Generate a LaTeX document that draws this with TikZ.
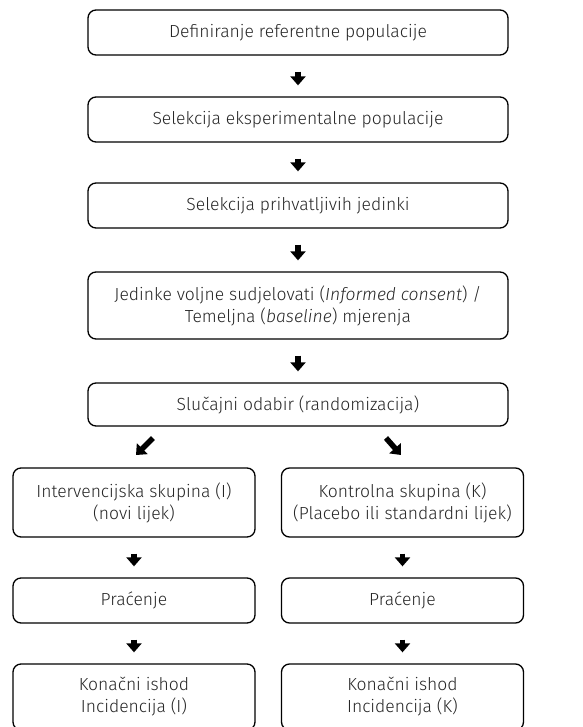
\documentclass[tikz,border=0pt]{standalone}
\usepackage{fontspec}
\setmainfont{Fira Sans}[UprightFont=* Light, ItalicFont=* Light Italic]
\usetikzlibrary{arrows.meta}
\begin{document}
\begin{tikzpicture}[x=1pt,y=-1pt,
  box/.style={draw=black, line width=1.3pt, rounded corners=8pt, align=center,
    font=\fontsize{17.5}{22}\selectfont, text=black!85, inner sep=0pt},
  wide/.style={box, minimum width=420pt},
  half/.style={box, minimum width=242pt},
  blk/.style={line width=5.5pt, -{Triangle[width=15pt,length=9pt]}, shorten <=16pt, shorten >=11pt}]
\useasboundingbox (0,0) rectangle (582,727);
\clip (0,0) rectangle (582,727);
\node[wide, minimum height=45pt] (b1) at (298,32.5) {Definiranje referentne populacije};
\node[wide, minimum height=45pt] (b2) at (298,119.5) {Selekcija eksperimentalne populacije};
\node[wide, minimum height=45pt] (b3) at (298,205.5) {Selekcija prihvatljivih jedinki};
\node[wide, minimum height=67pt] (b4) at (298,305.5) {Jedinke voljne sudjelovati (\textit{Informed consent}) /\\Temeljna (\textit{baseline}) mjerenja};
\node[wide, minimum height=43pt] (b5) at (298,404.5) {Slučajni odabir (randomizacija)};
\node[half, minimum height=69pt] (l1) at (134,502.5) {Intervencijska skupina (I)\\(novi lijek)};
\node[half, minimum height=69pt] (r1) at (402.5,502.5) {Kontrolna skupina (K)\\(Placebo ili standardni lijek)};
\node[half, minimum height=45pt] (l2) at (134,600.5) {Praćenje};
\node[half, minimum height=45pt] (r2) at (402.5,600.5) {Praćenje};
\node[half, minimum height=66pt] (l3) at (134,697) {Konačni ishod\\Incidencija (I)};
\node[half, minimum height=66pt] (r3) at (402.5,697) {Konačni ishod\\Incidencija (K)};
\draw[blk] (b1) -- (b2);
\draw[blk] (b2) -- (b3);
\draw[blk] (b3) -- (b4);
\draw[blk] (b4) -- (b5);
\coordinate (la) at (153,438);
\coordinate (lb) at (136,455);
\coordinate (ra) at (386,438);
\coordinate (rb) at (401,455);
\draw[line width=5.5pt, -{Triangle[width=15pt,length=9pt]}] (la) -- (lb);
\draw[line width=5.5pt, -{Triangle[width=15pt,length=9pt]}] (ra) -- (rb);
\draw[blk] (l1) -- (l2);
\draw[blk] (r1) -- (r2);
\draw[blk] (l2) -- (l3);
\draw[blk] (r2) -- (r3);
\end{tikzpicture}
\end{document}
